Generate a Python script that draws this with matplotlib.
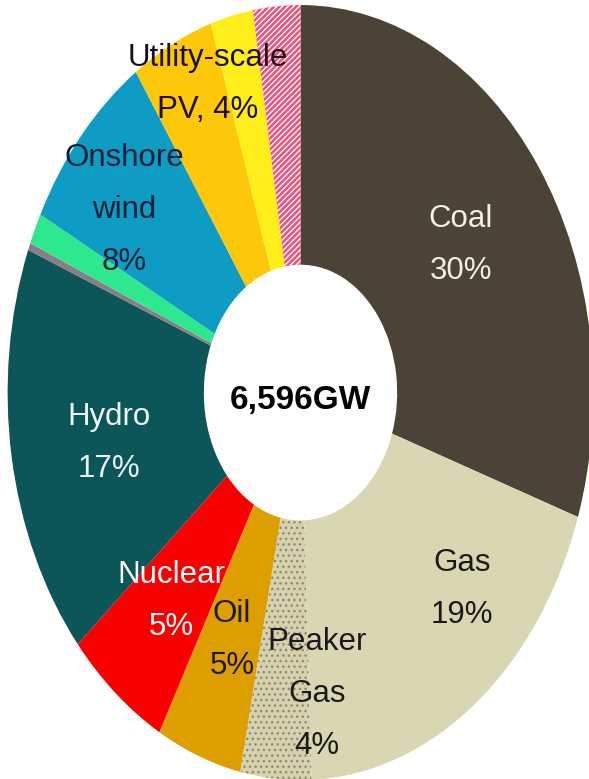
import matplotlib.pyplot as plt

# capacity mix, share of 6,596GW (clockwise from 12 o'clock)
sources = ["Coal", "Gas", "Peaker Gas", "Oil", "Nuclear", "Hydro",
           "Other", "Geothermal", "Onshore wind", "Utility-scale PV",
           "Small-scale PV", "Other RE"]
shares = [30.2, 19.2, 3.9, 4.7, 5.75, 17.25, 0.3, 1.3, 7.9, 4.55, 2.35, 2.6]
colors = ["#4a4336", "#d9d6b2", "#d6d2ae", "#dd9f00", "#f80000", "#0c5559",
          "#8a7d86", "#2de88c", "#0e9cc4", "#fdc80a", "#ffee1a", "#f0507a"]
hatches = [None, None, "...", None, None, None,
           None, None, None, None, None, "//////"]
hatch_colors = [None, None, "#8f8a70", None, None, None,
                None, None, None, None, None, "white"]

# visible labels: lines, block centre (pixels from top-left), text colour
labels = [["Coal", "30%"], ["Gas", "19%"], ["Peaker", "Gas", "4%"],
          ["Oil", "5%"], ["Nuclear", "5%"], ["Hydro", "17%"],
          ["Onshore", "wind", "8%"], ["Utility-scale", "PV, 4%"]]
label_pos = [(461, 245), (462, 589), (317, 694), (232, 640), (171, 601),
             (109, 443), (124, 210), (208, 84)]
label_colors = ["#f2efe4", "#1a1a1a", "#1a1a1a", "#1a1a1a", "white",
                "#eef4f2", "#0d1f33", "#1a1020"]
total_text = "6,596GW"

W, H = 589, 779
step = 52  # pixels between lines of one label
plt.rcParams['font.family'] = ['Liberation Sans', 'DejaVu Sans']

fig = plt.figure(figsize=(W / 100, H / 100), dpi=100)
ax = fig.add_axes([0, 0, 1, 1])

wedges, _ = ax.pie(shares, colors=colors, startangle=90, counterclock=False,
                   radius=1.0, wedgeprops=dict(width=0.67, linewidth=0))
for w, h, hc in zip(wedges, hatches, hatch_colors):
    if h:
        w.set_hatch(h)
        w.set_edgecolor(hc)
        w.set_linewidth(0)

# the source picture is a round donut stretched vertically
ax.set_aspect('auto')
ax.set_xlim(-1.026, 0.985)
ax.set_ylim(-0.997, 1.013)
ax.axis('off')

for lines, (px, py), c in zip(labels, label_pos, label_colors):
    y0 = py - step * (len(lines) - 1) / 2
    for i, line in enumerate(lines):
        ax.text(px / W, 1 - (y0 + i * step) / H, line, transform=ax.transAxes,
                ha='center', va='center', fontsize=22.5, color=c)

ax.text(300 / W, 1 - 400 / H, total_text, transform=ax.transAxes,
        ha='center', va='center', fontsize=24, fontweight='bold', color='black')

fig.savefig("out.png", dpi=100, facecolor='white')
